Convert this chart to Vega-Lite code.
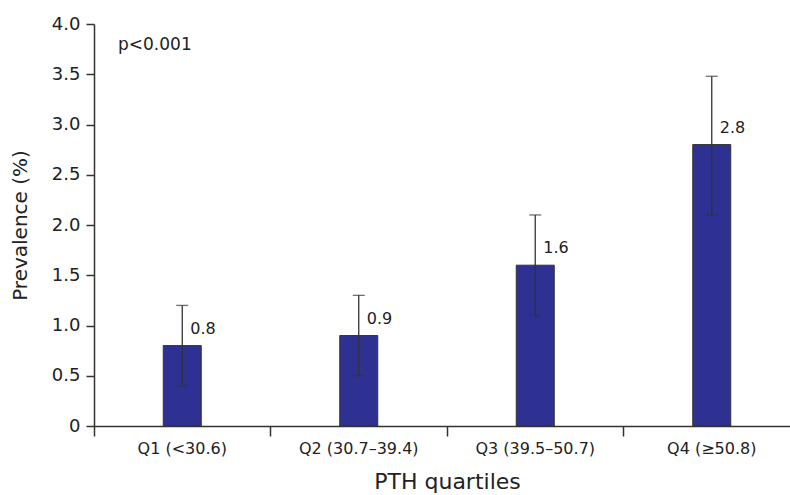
{
  "$schema": "https://vega.github.io/schema/vega-lite/v6.json",
  "width": 706,
  "height": 402,
  "autosize": "none",
  "padding": {"left": 94, "top": 24, "right": 0, "bottom": 69},
  "background": "white",
  "config": {
    "view": {"stroke": null},
    "font": "DejaVu Sans",
    "axis": {"domainColor": "#333", "tickColor": "#333", "labelColor": "#222", "titleColor": "#222", "grid": false, "labelFont": "DejaVu Sans", "titleFont": "DejaVu Sans", "titleFontWeight": "normal"}
  },
  "data": {
    "values": [
      {"q": "Q1 (<30.6)", "prev": 0.8, "lo": 0.4, "hi": 1.2},
      {"q": "Q2 (30.7–39.4)", "prev": 0.9, "lo": 0.5, "hi": 1.3},
      {"q": "Q3 (39.5–50.7)", "prev": 1.6, "lo": 1.1, "hi": 2.1},
      {"q": "Q4 (≥50.8)", "prev": 2.8, "lo": 2.1, "hi": 3.48}
    ]
  },
  "encoding": {
    "x": {
      "field": "q", "type": "nominal", "sort": null,
      "scale": {"paddingInner": 0, "paddingOuter": 0},
      "axis": {"title": "PTH quartiles", "labelAngle": 0, "labelFontSize": 16, "titleFontSize": 22, "tickSize": 10, "bandPosition": 0, "labelPadding": 4, "titlePadding": 15, "domainWidth": 1.5, "tickWidth": 1.5}
    }
  },
  "layer": [
    {
      "mark": {"type": "bar", "size": 38, "color": "#2E3192", "stroke": "#333", "strokeWidth": 1},
      "encoding": {
        "y": {
          "field": "prev", "type": "quantitative",
          "scale": {"domain": [0, 4]},
          "axis": {"title": "Prevalence (%)", "values": [0, 0.5, 1, 1.5, 2, 2.5, 3, 3.5, 4], "labelExpr": "datum.value == 0 ? '0' : format(datum.value, '.1f')", "labelFontSize": 18, "titleFontSize": 20, "tickSize": 8, "labelPadding": 6, "titlePadding": 21, "domainWidth": 1.5, "tickWidth": 1.5}
        }
      }
    },
    {
      "mark": {"type": "rule", "color": "#333", "strokeWidth": 1.3},
      "encoding": {"y": {"field": "lo", "type": "quantitative"}, "y2": {"field": "hi"}}
    },
    {
      "mark": {"type": "tick", "color": "#333", "size": 12, "thickness": 1.3},
      "encoding": {"y": {"field": "lo", "type": "quantitative"}}
    },
    {
      "mark": {"type": "tick", "color": "#333", "size": 12, "thickness": 1.3},
      "encoding": {"y": {"field": "hi", "type": "quantitative"}}
    },
    {
      "mark": {"type": "text", "align": "left", "baseline": "middle", "dx": 8, "dy": -17, "fontSize": 16, "color": "#222"},
      "encoding": {
        "y": {"field": "prev", "type": "quantitative"},
        "text": {"field": "prev", "type": "quantitative", "format": ".1f"}
      }
    },
    {
      "data": {"values": [{"q": "Q1 (<30.6)", "y": 3.79, "label": "p<0.001"}]},
      "mark": {"type": "text", "align": "left", "baseline": "middle", "dx": 24, "fontSize": 17, "color": "#222"},
      "encoding": {
        "x": {"field": "q", "type": "nominal", "bandPosition": 0},
        "y": {"field": "y", "type": "quantitative"},
        "text": {"field": "label"}
      }
    }
  ]
}
